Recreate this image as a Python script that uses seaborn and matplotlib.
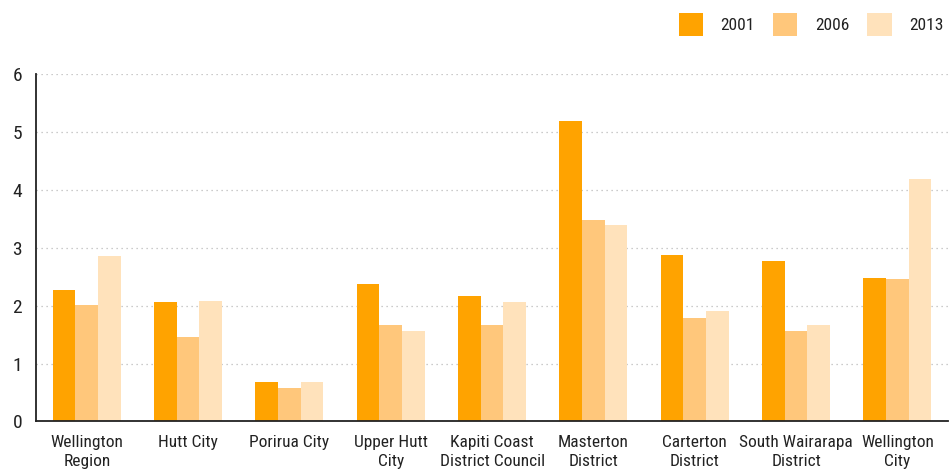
import pandas as pd
import matplotlib.pyplot as plt
import seaborn as sns

# data
regions = ['Wellington\nRegion', 'Hutt City', 'Porirua City', 'Upper Hutt\nCity',
           'Kapiti Coast\nDistrict Council', 'Masterton\nDistrict', 'Carterton\nDistrict',
           'South Wairarapa\nDistrict', 'Wellington\nCity']
years = ['2001', '2006', '2013']
vals_2001 = [2.27, 2.06, 0.68, 2.37, 2.17, 5.19, 2.88, 2.77, 2.48]
vals_2006 = [2.01, 1.46, 0.58, 1.67, 1.67, 3.48, 1.79, 1.56, 2.46]
vals_2013 = [2.86, 2.08, 0.68, 1.56, 2.06, 3.39, 1.91, 1.67, 4.19]
colors = ['#ffa300', '#ffc77b', '#ffe2bb']

df = pd.DataFrame({
    'region': regions * 3,
    'year': [y for y in years for _ in regions],
    'value': vals_2001 + vals_2006 + vals_2013,
})

sns.set_style('white')
plt.rcParams['font.family'] = ['Roboto Condensed', 'DejaVu Sans']
plt.rcParams['font.stretch'] = 'condensed'
text_col = '#222222'

fig = plt.figure(figsize=(9.5, 4.72), dpi=100)
ax = fig.add_axes([0.038, 0.107, 0.96, 0.736])

sns.barplot(data=df, x='region', y='value', hue='year', palette=colors,
            width=0.67, saturation=1, ax=ax, linewidth=0)

ax.set_ylim(0, 6)
ax.set_xlim(-0.5, 8.5)
ax.set_yticks(range(7))
ax.yaxis.grid(True, linestyle=(0, (1, 3)), color='#bbbbbb', linewidth=0.9)
ax.set_axisbelow(True)
ax.set_xlabel('')
ax.set_ylabel('')
ax.tick_params(axis='both', length=0, colors=text_col)
ax.tick_params(axis='x', pad=10, labelsize=12.5)
ax.tick_params(axis='y', pad=10, labelsize=14)
for lbl in ax.get_xticklabels():
    lbl.set_linespacing(1.3)
for s in ['top', 'right']:
    ax.spines[s].set_visible(False)
for s in ['left', 'bottom']:
    ax.spines[s].set_color('#222222')
    ax.spines[s].set_linewidth(1.3)

ax.legend(title=None, ncol=3, frameon=False, loc='upper right',
          bbox_to_anchor=(1.012, 1.222), handlelength=1.4, handleheight=1.7,
          columnspacing=1.05, handletextpad=1.0, fontsize=12.5, labelcolor=text_col)

fig.savefig('out.png', dpi=100)
